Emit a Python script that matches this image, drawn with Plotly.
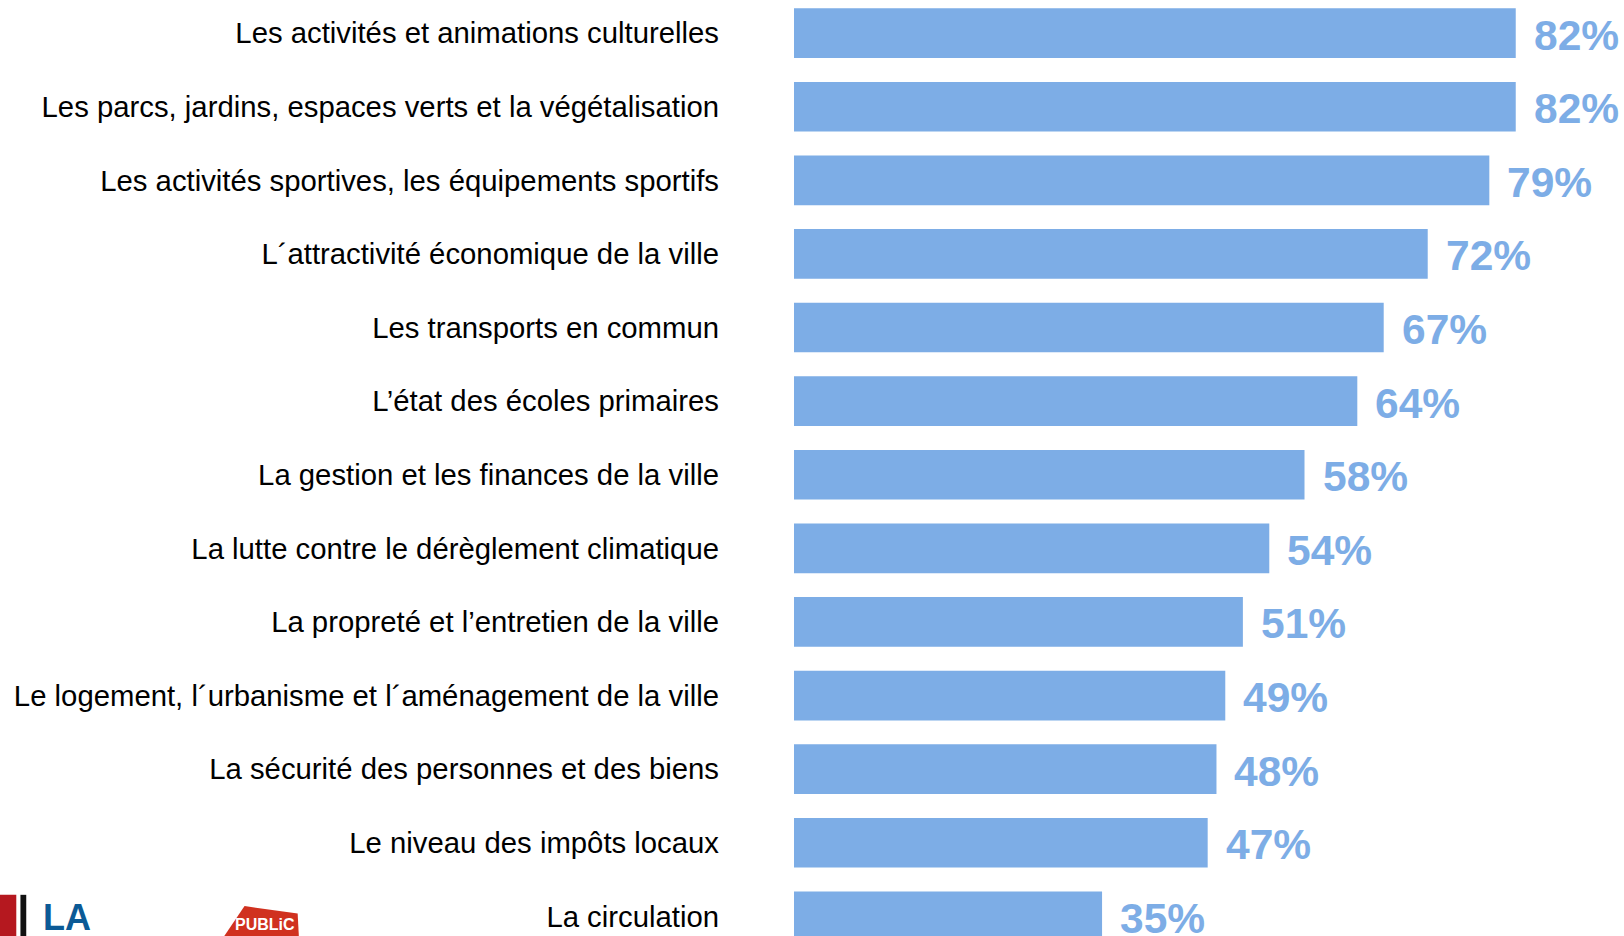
import plotly.graph_objects as go

categories = [
    "Les activités et animations culturelles",
    "Les parcs, jardins, espaces verts et la végétalisation",
    "Les activités sportives, les équipements sportifs",
    "L´attractivité économique de la ville",
    "Les transports en commun",
    "L’état des écoles primaires",
    "La gestion et les finances de la ville",
    "La lutte contre le dérèglement climatique",
    "La propreté et l’entretien de la ville",
    "Le logement, l´urbanisme et l´aménagement de la ville",
    "La sécurité des personnes et des biens",
    "Le niveau des impôts locaux",
    "La circulation",
]
values = [82, 82, 79, 72, 67, 64, 58, 54, 51, 49, 48, 47, 35]
value_labels = [f"{v}%" for v in values]

BAR_COLOR = "#7DADE6"
LABEL_FONT = "Liberation Sans, Arial, sans-serif"

fig = go.Figure(go.Bar(
    x=values,
    y=categories,
    orientation="h",
    marker=dict(color=BAR_COLOR, line=dict(width=0)),
    hoverinfo="skip",
))

# percentage labels just past the end of each bar
for cat, v, lab in zip(categories, values, value_labels):
    fig.add_annotation(
        x=v, y=cat, text=f"<b>{lab}</b>",
        xanchor="left", yanchor="middle", xshift=16, yshift=-2,
        showarrow=False,
        font=dict(family=LABEL_FONT, size=42.5, color=BAR_COLOR),
    )

# logos in the bottom-left corner (cropped in the original)
fig.add_shape(type="rect", xref="paper", yref="paper", x0=-0.957, x1=-0.937,
              y0=-0.01, y1=0.044, fillcolor="#b5181f", line=dict(width=0), layer="above")
fig.add_shape(type="rect", xref="paper", yref="paper", x0=-0.932, x1=-0.925,
              y0=-0.01, y1=0.044, fillcolor="#111111", line=dict(width=0), layer="above")
fig.add_annotation(xref="paper", yref="paper", x=-0.907, y=0.020, text="<b>LA</b>",
                   xanchor="left", yanchor="middle", showarrow=False,
                   font=dict(family=LABEL_FONT, size=36, color="#0b5a96"))
fig.add_shape(type="path", xref="paper", yref="paper",
              path="M -0.694 -0.01 L -0.662 0.032 L -0.598 0.024 L -0.596 -0.01 Z",
              fillcolor="#d0311f", line=dict(width=0), layer="above")
fig.add_annotation(xref="paper", yref="paper", x=-0.637, y=0.012, text="<b>PUBLiC</b>",
                   xanchor="center", yanchor="middle", showarrow=False,
                   font=dict(family=LABEL_FONT, size=16, color="white"))

fig.update_layout(
    width=1624,
    height=936,
    margin=dict(l=794, r=0, t=0, b=0),
    paper_bgcolor="white",
    plot_bgcolor="white",
    bargap=0.325,
    showlegend=False,
    xaxis=dict(range=[0, 94.3], showticklabels=False, showgrid=False,
               zeroline=False, showline=False),
    yaxis=dict(range=[12.267, -0.45], showgrid=False, zeroline=False,
               showline=False, ticks="", ticklabelstandoff=74,
               tickfont=dict(family=LABEL_FONT, size=29.3, color="black")),
)

fig.write_html(
    "out.html",
    config={"displayModeBar": False},
    post_script="document.body.style.margin='0';document.body.style.overflow='hidden';",
)
